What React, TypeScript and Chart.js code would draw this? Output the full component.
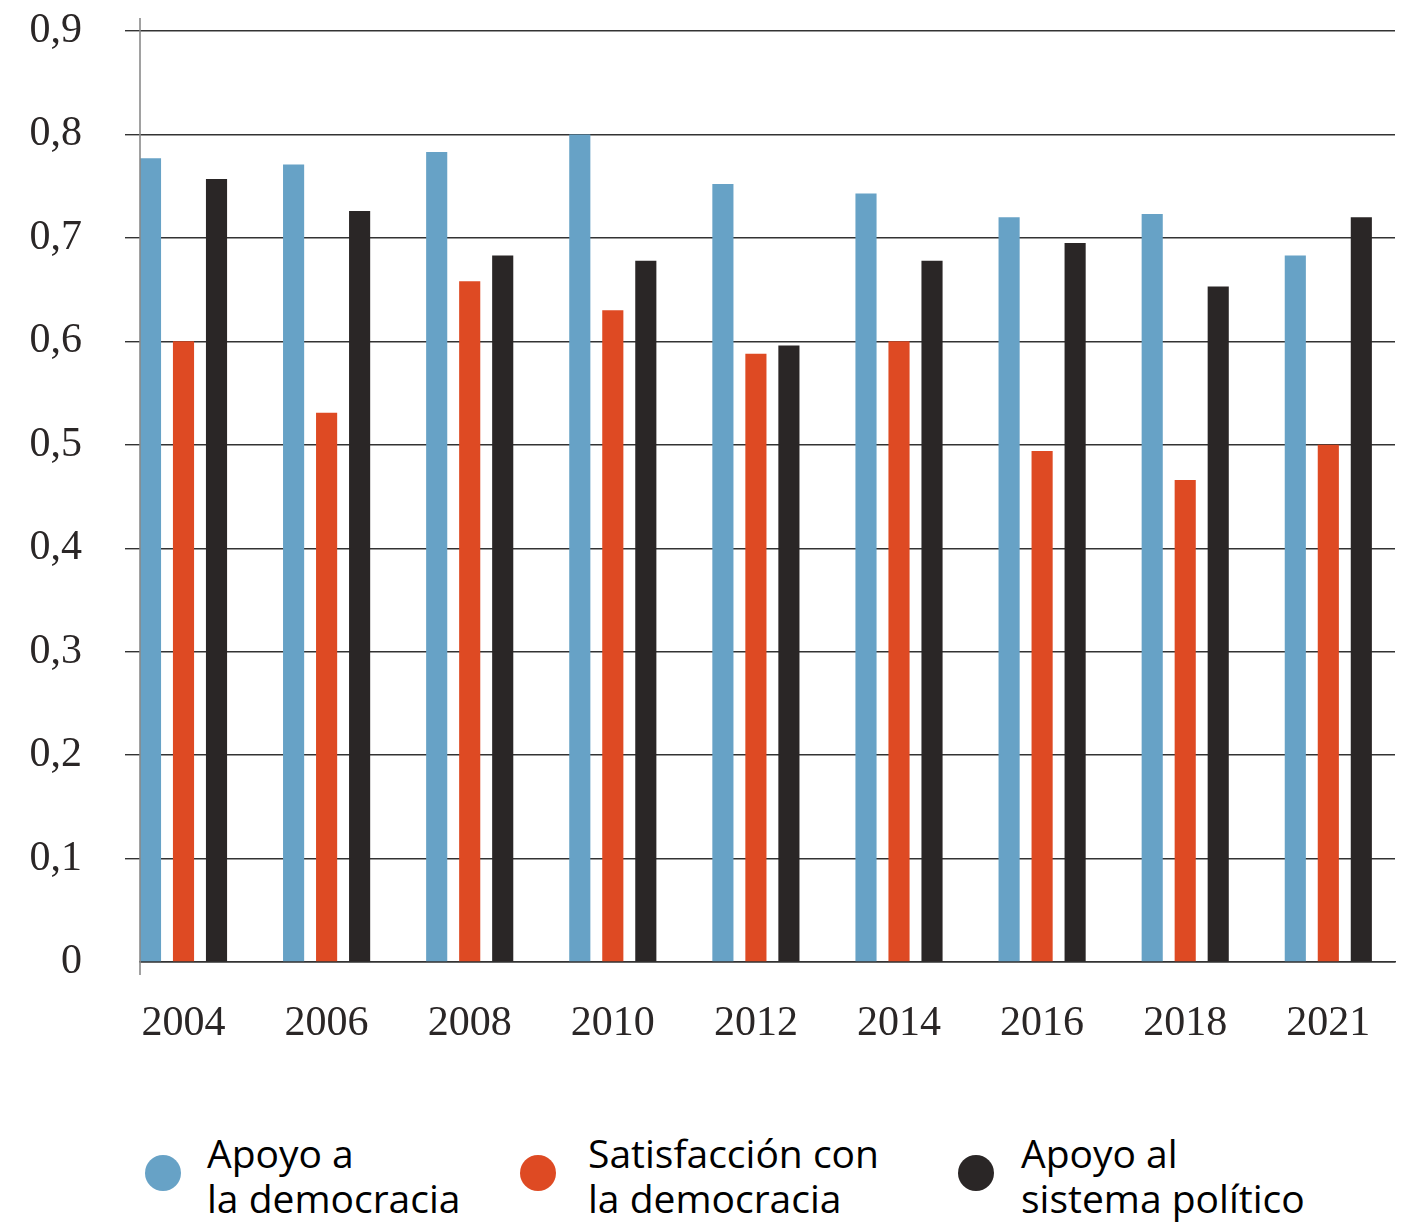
import React, { useEffect, useRef } from 'react';
import { Chart, registerables } from 'chart.js';

Chart.register(...registerables);

const years = ['2004', '2006', '2008', '2010', '2012', '2014', '2016', '2018', '2021'];
const apoyoDemocracia = [0.777, 0.771, 0.783, 0.8, 0.752, 0.743, 0.72, 0.723, 0.683];
const satisfaccionDemocracia = [0.6, 0.531, 0.658, 0.63, 0.588, 0.6, 0.494, 0.466, 0.5];
const apoyoSistema = [0.757, 0.726, 0.683, 0.678, 0.596, 0.678, 0.695, 0.653, 0.72];
const seriesLabels = [
  ['Apoyo a', 'la democracia'],
  ['Satisfacción con', 'la democracia'],
  ['Apoyo al', 'sistema político'],
];
const seriesColors = ['#67a2c6', '#de4a23', '#2a2626'];
const yMin = 0;
const yMax = 0.9;
const yStep = 0.1;

const CANVAS_W = 1401;
const CANVAS_H = 1100;

const axisLinePlugin = {
  id: 'axisLine',
  afterDatasetsDraw(chart: any) {
    const { ctx, chartArea } = chart;
    ctx.save();
    ctx.strokeStyle = '#8a8a8a';
    ctx.lineWidth = 1.6;
    ctx.beginPath();
    ctx.moveTo(chartArea.left, chartArea.top - 13);
    ctx.lineTo(chartArea.left, chartArea.bottom + 13);
    ctx.stroke();
    ctx.restore();
  },
};

export default function App() {
  const canvasRef = useRef<HTMLCanvasElement | null>(null);

  useEffect(() => {
    const canvas = canvasRef.current;
    if (!canvas) return;
    const allSeries = [apoyoDemocracia, satisfaccionDemocracia, apoyoSistema];
    const chart = new Chart(canvas, {
      type: 'bar',
      data: {
        datasets: allSeries.map((vals, si) => ({
          label: seriesLabels[si].join(' '),
          data: vals.map((v, i) => ({ x: i, y: v })),
          backgroundColor: seriesColors[si],
          borderWidth: 0,
          categoryPercentage: 0.692,
          barPercentage: 0.64,
        })),
      },
      options: {
        responsive: false,
        maintainAspectRatio: false,
        animation: false,
        layout: { padding: { top: 31, right: 6, bottom: 0, left: 0 } },
        plugins: {
          legend: { display: false },
          tooltip: { enabled: false },
        },
        scales: {
          x: {
            type: 'linear',
            offset: false,
            min: -0.304,
            max: 8.466,
            grid: { display: false, offset: false },
            border: { display: true, color: '#333333', width: 1.4 },
            afterBuildTicks: (scale: any) => {
              scale.ticks = years.map((_, i) => ({ value: i }));
            },
            afterFit: (scale: any) => {
              scale.height = CANVAS_H - 962;
              scale.paddingLeft = 0;
              scale.paddingRight = 0;
            },
            ticks: {
              autoSkip: false,
              maxRotation: 0,
              padding: 29,
              color: '#2a2626',
              font: { family: '"Liberation Serif", serif', size: 42 },
              callback: (v: any) => years[Math.round(Number(v))] ?? '',
            },
          },
          y: {
            min: yMin,
            max: yMax,
            afterFit: (scale: any) => {
              scale.width = 140;
              scale.paddingTop = 0;
              scale.paddingBottom = 0;
            },
            grid: {
              color: '#333333',
              lineWidth: 1.4,
              tickLength: 15,
              drawTicks: true,
              tickColor: (c: any) => (c.tick && c.tick.value === 0 ? 'rgba(0,0,0,0)' : '#333333'),
            },
            border: { display: false },
            ticks: {
              stepSize: yStep,
              padding: 43,
              color: '#2a2626',
              font: { family: '"Liberation Serif", serif', size: 42 },
              callback: (v: any) => {
                const n = Math.round(Number(v) * 10) / 10;
                return n === 0 ? '0' : n.toFixed(1).replace('.', ',');
              },
            },
          },
        },
      },
      plugins: [axisLinePlugin],
    } as any);
    return () => chart.destroy();
  }, []);

  const legendX = [145, 520, 958];
  const textX = [207, 588, 1021];

  return (
    <div style={{ position: 'fixed', left: 0, top: 0, width: CANVAS_W, height: 1222, background: '#ffffff', overflow: 'hidden' }}>
      <canvas ref={canvasRef} width={CANVAS_W} height={CANVAS_H} style={{ position: 'absolute', left: 0, top: 0, width: CANVAS_W, height: CANVAS_H }} />
      {seriesLabels.map((lines, i) => (
        <React.Fragment key={i}>
          <div
            style={{
              position: 'absolute',
              left: legendX[i],
              top: 1155,
              width: 36,
              height: 36,
              borderRadius: '50%',
              background: seriesColors[i],
            }}
          />
          <div
            style={{
              position: 'absolute',
              left: textX[i],
              top: 1130,
              fontFamily: '"Open Sans", sans-serif',
              fontSize: 39,
              lineHeight: '45px',
              color: '#000000',
              whiteSpace: 'nowrap',
            }}
          >
            {lines.map((l, j) => (
              <div key={j}>{l}</div>
            ))}
          </div>
        </React.Fragment>
      ))}
    </div>
  );
}
